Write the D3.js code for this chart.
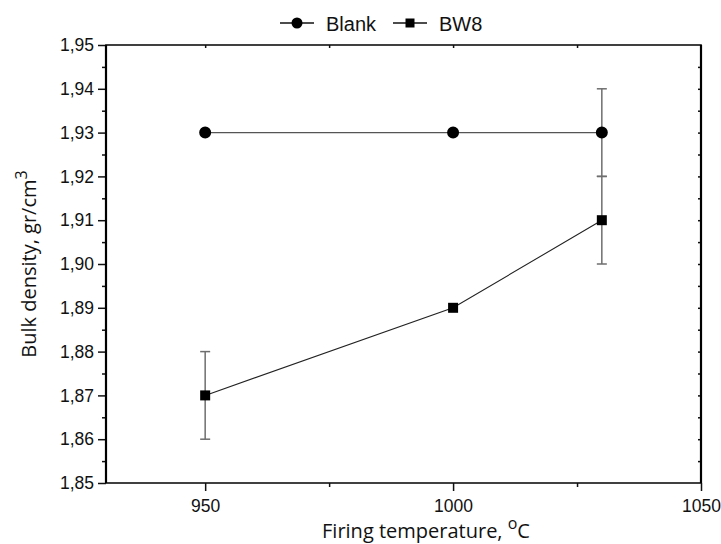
<!DOCTYPE html>
<html>
<head>
<meta charset="utf-8">
<script src="https://cdn.jsdelivr.net/npm/d3@7"></script>
<style>
  body { margin: 0; background: #fff; }
  svg { display: block; }
  .tick text { font-family: "Liberation Sans", Arial, sans-serif; font-size: 17.5px; fill: #111; }
</style>
</head>
<body>
<svg id="chart" width="721" height="544"></svg>
<script>
// data
var temps = [950, 1000, 1030];
var blankVals = [1.93, 1.93, 1.93];
var blankErr = [0, 0, 0.01];
var bw8Vals = [1.87, 1.89, 1.91];
var bw8Err = [0.01, 0, 0.01];
var xTicks = [950, 1000, 1050];
var yTicks = [1.85, 1.86, 1.87, 1.88, 1.89, 1.90, 1.91, 1.92, 1.93, 1.94, 1.95];

// plot box (window.top is read-only, so no "top" here)
var plotL = 106, plotR = 701, plotT = 45, plotB = 483;

var svg = d3.select('#chart');

var x = d3.scaleLinear().domain([930, 1050]).range([plotL, plotR]);
var y = d3.scaleLinear().domain([1.85, 1.95]).range([plotB, plotT]);

var fmt = function(d) { return d3.format('.2f')(d).replace('.', ','); };

// minor ticks first
svg.append('g')
    .attr('transform', 'translate(' + plotL + ',0)')
    .call(d3.axisLeft(y).tickValues(d3.range(1.855, 1.95, 0.01)).tickSize(4).tickFormat(''))
    .call(function(g) { g.select('.domain').remove(); });

svg.append('g')
    .attr('transform', 'translate(0,' + plotB + ')')
    .call(d3.axisBottom(x).tickValues([975, 1025]).tickSize(4).tickFormat(''))
    .call(function(g) { g.select('.domain').remove(); });

// right and top axes, small inner ticks
svg.append('g')
    .attr('transform', 'translate(' + plotR + ',0)')
    .call(d3.axisLeft(y).tickValues(d3.range(1.855, 1.95, 0.005)).tickSize(3).tickFormat(''))
    .call(function(g) { g.select('.domain').remove(); });

svg.append('g')
    .attr('transform', 'translate(0,' + plotT + ')')
    .call(d3.axisBottom(x).tickValues([950, 975, 1000, 1025]).tickSize(3).tickFormat(''))
    .call(function(g) { g.select('.domain').remove(); });

// major axes
var yAxis = svg.append('g')
    .attr('transform', 'translate(' + plotL + ',0)')
    .call(d3.axisLeft(y).tickValues(yTicks).tickSize(8).tickPadding(4).tickFormat(fmt));
yAxis.select('.domain').remove();

var xAxis = svg.append('g')
    .attr('transform', 'translate(0,' + plotB + ')')
    .call(d3.axisBottom(x).tickValues(xTicks).tickSize(8).tickPadding(9).tickFormat(d3.format('d')));
xAxis.select('.domain').remove();

svg.selectAll('.tick line').attr('stroke', '#111').attr('stroke-width', 1.5);

// frame
svg.append('rect')
    .attr('x', plotL).attr('y', plotT)
    .attr('width', plotR - plotL).attr('height', plotB - plotT)
    .attr('fill', 'none').attr('stroke', '#111').attr('stroke-width', 1.6);
svg.append('line').attr('x1', plotL).attr('x2', plotL).attr('y1', plotT).attr('y2', plotB)
    .attr('stroke', '#000').attr('stroke-width', 2.2);
svg.append('line').attr('x1', plotR).attr('x2', plotR).attr('y1', plotT).attr('y2', plotB)
    .attr('stroke', '#000').attr('stroke-width', 2.2);

function drawSeries(vals, errs, shape, lineColor) {
    var pts = temps.map(function(t, i) { return { t: t, v: vals[i], e: errs[i] }; });

    svg.append('path')
        .datum(pts)
        .attr('fill', 'none')
        .attr('stroke', lineColor)
        .attr('stroke-width', 1.1)
        .attr('d', d3.line().x(function(d) { return x(d.t); }).y(function(d) { return y(d.v); }));

    var eb = svg.append('g').selectAll('g').data(pts.filter(function(d) { return d.e > 0; })).enter().append('g')
        .attr('stroke', '#6e6e6e').attr('stroke-width', 1.5);
    eb.append('line')
        .attr('x1', function(d) { return x(d.t); }).attr('x2', function(d) { return x(d.t); })
        .attr('y1', function(d) { return y(d.v - d.e); }).attr('y2', function(d) { return y(d.v + d.e); });
    eb.append('line')
        .attr('x1', function(d) { return x(d.t) - 5; }).attr('x2', function(d) { return x(d.t) + 5; })
        .attr('y1', function(d) { return y(d.v - d.e); }).attr('y2', function(d) { return y(d.v - d.e); });
    eb.append('line')
        .attr('x1', function(d) { return x(d.t) - 5; }).attr('x2', function(d) { return x(d.t) + 5; })
        .attr('y1', function(d) { return y(d.v + d.e); }).attr('y2', function(d) { return y(d.v + d.e); });

    svg.append('g').selectAll('path').data(pts).enter().append('path')
        .attr('transform', function(d) { return 'translate(' + x(d.t) + ',' + y(d.v) + ')'; })
        .attr('d', shape === 'circle' ? d3.symbol(d3.symbolCircle, 113)() : d3.symbol(d3.symbolSquare, 100)())
        .attr('fill', '#000');
}

drawSeries(blankVals, blankErr, 'circle', '#555');
drawSeries(bw8Vals, bw8Err, 'square', '#222');

// legend
var legend = [
    { name: 'Blank', shape: 'circle', x0: 280 },
    { name: 'BW8', shape: 'square', x0: 393 }
];
var lg = svg.append('g').selectAll('g').data(legend).enter().append('g');
lg.append('line')
    .attr('x1', function(d) { return d.x0; }).attr('x2', function(d) { return d.x0 + 34; })
    .attr('y1', 23).attr('y2', 23)
    .attr('stroke', '#111').attr('stroke-width', 1.3);
lg.append('path')
    .attr('transform', function(d) { return 'translate(' + (d.x0 + 17) + ',23)'; })
    .attr('d', function(d) { return d.shape === 'circle' ? d3.symbol(d3.symbolCircle, 95)() : d3.symbol(d3.symbolSquare, 81)(); })
    .attr('fill', '#000');
lg.append('text')
    .attr('x', function(d) { return d.x0 + 46; })
    .attr('y', 30.5)
    .attr('font-family', '"Liberation Sans", Arial, sans-serif')
    .attr('font-size', 20)
    .attr('fill', '#111')
    .text(function(d) { return d.name; });

// axis titles
var xt = svg.append('text')
    .attr('x', 426).attr('y', 538)
    .attr('text-anchor', 'middle')
    .attr('font-family', '"Open Sans", "Noto Sans", sans-serif')
    .attr('font-size', 20)
    .attr('fill', '#111');
xt.append('tspan').text('Firing temperature, ');
xt.append('tspan').attr('dy', -9).attr('font-size', 16).text('o');
xt.append('tspan').attr('dy', 9).text('C');

var yt = svg.append('text')
    .attr('transform', 'translate(36,' + ((plotT + plotB) / 2) + ') rotate(-90)')
    .attr('text-anchor', 'middle')
    .attr('font-family', '"Open Sans", "Noto Sans", sans-serif')
    .attr('font-size', 20)
    .attr('fill', '#111');
yt.append('tspan').text('Bulk density, gr/cm');
yt.append('tspan').attr('dy', -9).attr('font-size', 16).text('3');
</script>
</body>
</html>
